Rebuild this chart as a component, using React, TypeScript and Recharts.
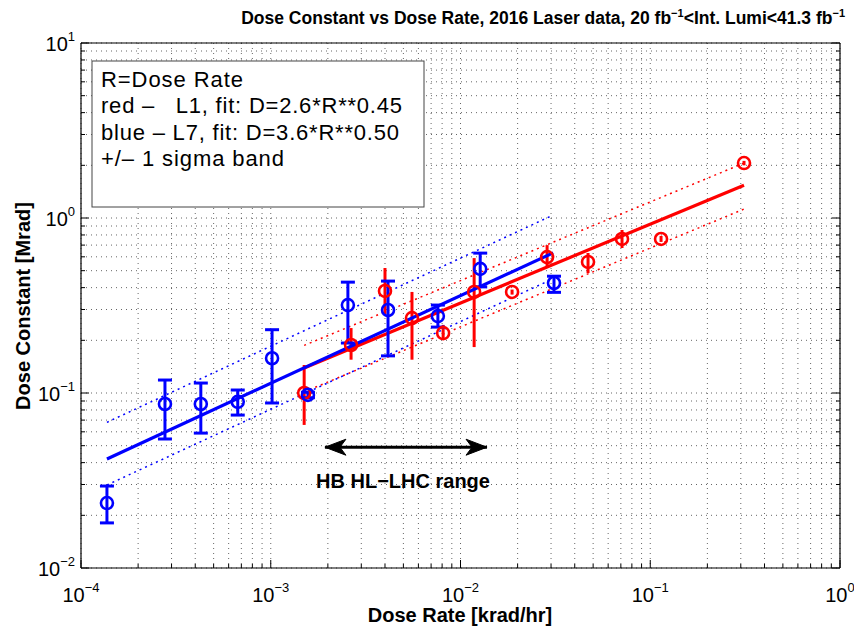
import React from "react";
import { ComposedChart, Line, Scatter, ErrorBar, XAxis, YAxis, CartesianGrid } from "recharts";

const W = 854;
const H = 629;
// plot area: x 81..840, y 43..568 (axes take 1px each)
const M = { top: 42, right: 13, bottom: 60, left: 80 };
const FONT = "'Liberation Sans', Arial, Helvetica, sans-serif";

// axis decades (log scale)
const xDecades = [-4, -3, -2, -1, 0];
const yDecades = [-2, -1, 0, 1];

// red: L1
const redRate = [0.0015, 0.00265, 0.004, 0.00555, 0.0081, 0.0118, 0.0187, 0.0286, 0.047, 0.071, 0.114, 0.312];
const redDose = [0.1, 0.188, 0.383, 0.268, 0.22, 0.378, 0.378, 0.598, 0.561, 0.759, 0.759, 2.06];
const redLow = [0.0657, 0.155, 0.28, 0.155, 0.201, 0.183, 0.365, 0.518, 0.485, 0.674, 0.73, 2.0];
const redHigh = [0.1445, 0.235, 0.518, 0.378, 0.245, 0.59, 0.39, 0.7, 0.631, 0.854, 0.79, 2.12];

// blue: L7
const blueRate = [0.000137, 0.000277, 0.000428, 0.00067, 0.001016, 0.00157, 0.00255, 0.00415, 0.0076, 0.0127, 0.0311];
const blueDose = [0.0235, 0.0865, 0.0865, 0.089, 0.158, 0.0975, 0.318, 0.298, 0.275, 0.512, 0.425];
const blueLow = [0.0181, 0.0546, 0.059, 0.0748, 0.0877, 0.094, 0.193, 0.163, 0.238, 0.404, 0.376];
const blueHigh = [0.0294, 0.1186, 0.114, 0.104, 0.23, 0.101, 0.43, 0.436, 0.318, 0.63, 0.465];

// fits and +/- 1 sigma bands (end points)
const redFitRate = [0.0015, 0.312];
const redFit = [0.139, 1.54];
const redUpper = [0.187, 2.06];
const redLower = [0.1015, 1.125];

const blueFitRate = [0.000137, 0.0308];
const blueFit = [0.042, 0.632];
const blueUpper = [0.068, 1.04];
const blueLower = [0.0298, 0.45];

// HB HL-LHC range arrow
const arrowRate = [0.00193, 0.0138];
const arrowDose = [0.049, 0.049];

function logTicks(decades: number[]) {
  const out: number[] = [];
  decades.forEach((d, i) => {
    const last = i === decades.length - 1;
    for (let m = 1; m <= (last ? 1 : 9); m++) out.push(m * Math.pow(10, d));
  });
  return out;
}
const xTicks = logTicks(xDecades);
const yTicks = logTicks(yDecades);

const isMajor = (v: number) => Math.abs(Math.log10(v) - Math.round(Math.log10(v))) < 1e-9;
const expo = (v: number) => String(Math.round(Math.log10(v))).replace("-", "\u2212");

const pts = (xs: number[], ys: number[], lo: number[], hi: number[]) =>
  xs.map((x, i) => ({ x, y: ys[i], err: [ys[i] - lo[i], hi[i] - ys[i]] }));
const seg = (xs: number[], ys: number[]) => xs.map((x, i) => ({ x, y: ys[i] }));

const redPts = pts(redRate, redDose, redLow, redHigh);
const bluePts = pts(blueRate, blueDose, blueLow, blueHigh);

const XTick = ({ x, y, payload, side }: any) => {
  const v = payload.value;
  const major = isMajor(v);
  const len = major ? 8 : 4;
  const dir = side === "top" ? 1 : -1;
  return (
    <g>
      <line x1={x} x2={x} y1={y} y2={y + dir * len} stroke="#000" strokeWidth={1} />
      {side !== "top" && major && (
        <text x={x} y={y + 34} textAnchor="middle" fontSize={20} fontFamily={FONT} fill="#000">
          10<tspan dy={-10} fontSize={13}>{expo(v)}</tspan>
        </text>
      )}
    </g>
  );
};

const YTick = ({ x, y, payload, side }: any) => {
  const v = payload.value;
  const major = isMajor(v);
  const len = major ? 8 : 4;
  const dir = side === "right" ? -1 : 1;
  return (
    <g>
      <line x1={x} x2={x + dir * len} y1={y} y2={y} stroke="#000" strokeWidth={1} />
      {side !== "right" && major && (
        <text x={x - 6} y={y + 8} textAnchor="end" fontSize={20} fontFamily={FONT} fill="#000">
          10<tspan dy={-10} fontSize={13}>{expo(v)}</tspan>
        </text>
      )}
    </g>
  );
};

const ring = (color: string) => (p: any) =>
  <circle cx={p.cx} cy={p.cy} r={6} fill="none" stroke={color} strokeWidth={2.6} />;

const ArrowHead = (p: any) => {
  const { cx, cy, index } = p;
  const s = index === 0 ? 1 : -1;
  const d = `M${cx},${cy} L${cx + s * 21},${cy - 8} L${cx + s * 15},${cy} L${cx + s * 21},${cy + 8} Z`;
  return <path key={`ah${index}`} d={d} fill="#000" stroke="#000" strokeWidth={1} />;
};

export default function App() {
  const axisCommon = {
    type: "number" as const,
    scale: "log" as const,
    allowDataOverflow: true,
    tickSize: 0,
    tickMargin: 0,
    interval: 0 as const,
    tickLine: false,
    axisLine: { stroke: "#000", strokeWidth: 1.2 },
  };
  return (
    <div style={{ position: "absolute", left: 0, top: 0, width: W, height: H, background: "#fff" }}>
      <ComposedChart width={W} height={H} margin={M}>
        <CartesianGrid stroke="#000" strokeOpacity={0.6} strokeDasharray="1 4" />
        <XAxis {...axisCommon} dataKey="x" domain={[1e-4, 1]} ticks={xTicks} height={1}
          tick={(p: any) => <XTick {...p} side="bottom" />} />
        <XAxis {...axisCommon} xAxisId="top" orientation="top" domain={[1e-4, 1]} ticks={xTicks} height={1}
          tick={(p: any) => <XTick {...p} side="top" />} />
        <YAxis {...axisCommon} dataKey="y" domain={[0.01, 10]} ticks={yTicks} width={1}
          tick={(p: any) => <YTick {...p} side="left" />} />
        <YAxis {...axisCommon} yAxisId="right" orientation="right" domain={[0.01, 10]} ticks={yTicks} width={1}
          tick={(p: any) => <YTick {...p} side="right" />} />

        <Line data={seg(redFitRate, redUpper)} dataKey="y" stroke="#ff0000" strokeWidth={1.5} strokeDasharray="2 4" dot={false} isAnimationActive={false} />
        <Line data={seg(redFitRate, redLower)} dataKey="y" stroke="#ff0000" strokeWidth={1.5} strokeDasharray="2 4" dot={false} isAnimationActive={false} />
        <Line data={seg(blueFitRate, blueUpper)} dataKey="y" stroke="#0000ff" strokeWidth={1.5} strokeDasharray="2 4" dot={false} isAnimationActive={false} />
        <Line data={seg(blueFitRate, blueLower)} dataKey="y" stroke="#0000ff" strokeWidth={1.5} strokeDasharray="2 4" dot={false} isAnimationActive={false} />

        <Scatter data={redPts} dataKey="y" shape={ring("#ff0000")} isAnimationActive={false}>
          <ErrorBar dataKey="err" direction="y" width={0} stroke="#ff0000" strokeWidth={3} isAnimationActive={false} />
        </Scatter>
        <Line data={seg(redFitRate, redFit)} dataKey="y" stroke="#ff0000" strokeWidth={3.2} dot={false} isAnimationActive={false} />
        <Scatter data={bluePts} dataKey="y" shape={ring("#0000ff")} isAnimationActive={false}>
          <ErrorBar dataKey="err" direction="y" width={7} stroke="#0000ff" strokeWidth={3} isAnimationActive={false} />
        </Scatter>
        <Line data={seg(blueFitRate, blueFit)} dataKey="y" stroke="#0000ff" strokeWidth={3.2} dot={false} isAnimationActive={false} />

        <Line data={seg(arrowRate, arrowDose)} dataKey="y" stroke="#000" strokeWidth={3} dot={ArrowHead} isAnimationActive={false} />
      </ComposedChart>

      <svg width={W} height={H} style={{ position: "absolute", left: 0, top: 0, pointerEvents: "none" }} fontFamily={FONT}>
        <text x={845} y={24} textAnchor="end" fontSize={17.5} fontWeight="bold">
          Dose Constant vs Dose Rate, 2016 Laser data, 20 fb<tspan dy={-7} fontSize={11}>{"\u22121"}</tspan>
          <tspan dy={7}>{"<Int. Lumi<41.3 fb"}</tspan><tspan dy={-7} fontSize={11}>{"\u22121"}</tspan>
        </text>
        <text x={460} y={622} textAnchor="middle" fontSize={20} fontWeight="bold">Dose Rate [krad/hr]</text>
        <text transform="translate(30,306) rotate(-90)" textAnchor="middle" fontSize={20} fontWeight="bold">Dose Constant [Mrad]</text>
        <text x={403} y={488} textAnchor="middle" fontSize={20} fontWeight="bold">HB HL{"\u2212"}LHC range</text>

        <rect x={92} y={61} width={332} height={146} fill="#fff" stroke="#444" strokeWidth={1} />
        <g fontSize={22}>
          <text x={101} y={87} textLength={142}>R=Dose Rate</text>
          <text x={101} y={113} textLength={301}>{"red \u2013\u00a0\u00a0\u00a0L1, fit: D=2.6*R**0.45"}</text>
          <text x={101} y={140} textLength={298}>{"blue \u2013 L7, fit: D=3.6*R**0.50"}</text>
          <text x={101} y={166} textLength={183}>{"+/\u2013 1 sigma band"}</text>
        </g>
      </svg>
    </div>
  );
}
